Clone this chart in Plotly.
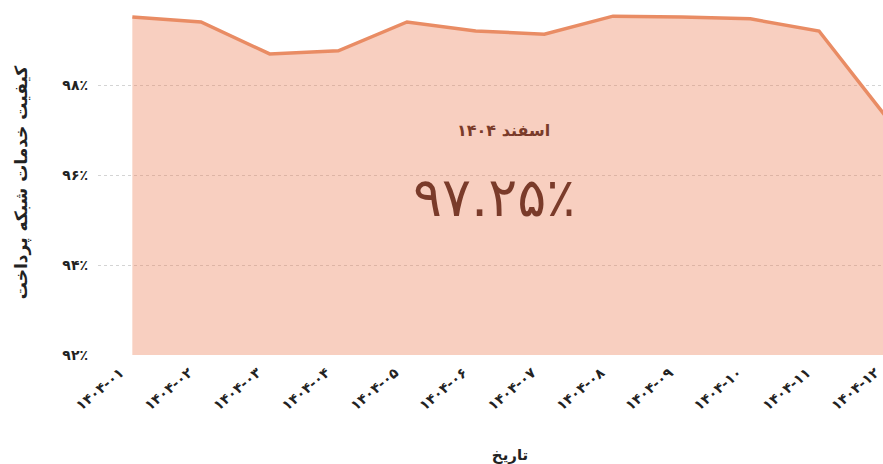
import plotly.graph_objects as go

months = ["۱۴۰۴-۰۱", "۱۴۰۴-۰۲", "۱۴۰۴-۰۳", "۱۴۰۴-۰۴", "۱۴۰۴-۰۵", "۱۴۰۴-۰۶",
          "۱۴۰۴-۰۷", "۱۴۰۴-۰۸", "۱۴۰۴-۰۹", "۱۴۰۴-۱۰", "۱۴۰۴-۱۱", "۱۴۰۴-۱۲"]
quality = [99.51, 99.40, 98.69, 98.76, 99.40, 99.20, 99.13, 99.53, 99.51, 99.47, 99.20, 97.25]
ytick_vals = [92, 94, 96, 98]
ytick_text = ["۹۲٪", "۹۴٪", "۹۶٪", "۹۸٪"]
latest_label = "اسفند ۱۴۰۴"
latest_value = "۹۷.۲۵٪"

FONT = "DejaVu Sans"
L, R, T, B = 98, 38, 10, 109
W = 960
PW = W - L - R

fig = go.Figure()
fig.add_trace(go.Scatter(
    x=list(range(len(months))), y=quality, mode="lines",
    line=dict(color="#E98C64", width=3.5),
    fill="tozeroy", fillcolor="rgba(236,130,90,0.38)",
    hoverinfo="skip", showlegend=False,
))

fig.update_layout(
    width=W, height=464,
    margin=dict(l=L, r=R, t=T, b=B, autoexpand=False),
    paper_bgcolor="white", plot_bgcolor="white",
    font=dict(family=FONT, color="#222"),
    xaxis=dict(
        range=[-0.5, 11.5], tickmode="array",
        tickvals=list(range(len(months))), ticktext=["<b>" + m + "</b>" for m in months],
        tickangle=-40, showgrid=False, zeroline=False, showline=False,
        ticklabelshift=-12, ticklabelstandoff=6, automargin=False,
        tickfont=dict(size=14, family=FONT, color="#222"),
        title=dict(text="<b>تاریخ</b>", font=dict(size=15, family=FONT, color="#222"), standoff=52),
    ),
    yaxis=dict(
        range=[92, 99.667], tickmode="array", tickvals=ytick_vals,
        ticktext=["<b>" + t + "</b>" for t in ytick_text],
        showgrid=True, gridcolor="#d4d4d4", griddash="dot", gridwidth=1,
        zeroline=False, showline=False, automargin=False,
        tickfont=dict(size=14, family=FONT, color="#222"),
        ticklabelstandoff=9,
        title=dict(text="<b>کیفیت خدمات شبکه پرداخت</b>", font=dict(size=17, family=FONT, color="#222"), standoff=30),
    ),
    annotations=[
        dict(text="<b>" + latest_label + "</b>", xref="paper", yref="paper",
             x=(503 - L) / PW, y=(345 - 130 + T) / 345, xanchor="center", yanchor="middle",
             showarrow=False, font=dict(size=16, family=FONT, color="#7a3b2a")),
        dict(text=latest_value, xref="paper", yref="paper",
             x=(494 - L) / PW, y=(345 - 197 + T) / 345, xanchor="center", yanchor="middle",
             showarrow=False, font=dict(size=54, family=FONT, color="#7a3b2a")),
    ],
)

fig.write_html("out.html", config={"displayModeBar": False},
               post_script="document.body.style.margin='0';document.body.style.overflow='hidden';")
